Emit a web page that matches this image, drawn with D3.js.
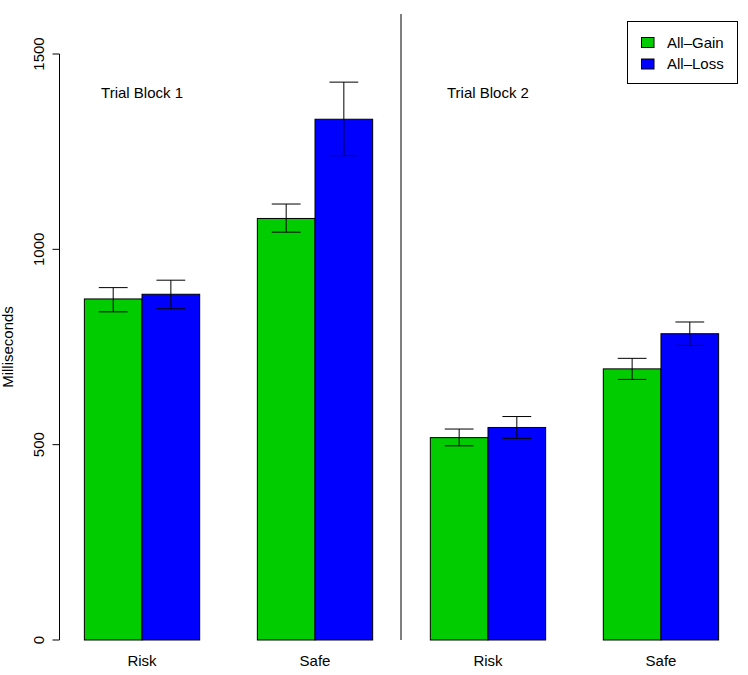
<!DOCTYPE html>
<html>
<head>
<meta charset="utf-8">
<script src="https://cdn.jsdelivr.net/npm/d3@7"></script>
<style>
  body { margin: 0; background: #fff; }
  text { font-family: "Liberation Sans", Arial, Helvetica, sans-serif; fill: #000; }
</style>
</head>
<body>
<svg id="chart" width="748" height="675"></svg>
<script>
// ---- data ----
const categories = ["Risk", "Safe", "Risk", "Safe"];
const blocks = ["Trial Block 1", "Trial Block 2"];
const series = ["All\u2013Gain", "All\u2013Loss"];
const gainMean = [873, 1079, 518, 694];
const gainLow  = [840, 1044, 497, 667];
const gainHigh = [902, 1116, 540, 721];
const lossMean = [885, 1333, 544, 784];
const lossLow  = [848, 1240, 516, 754];
const lossHigh = [921, 1428, 572, 814];
const yTicks = [0, 500, 1000, 1500];
const colors = ["#00CC00", "#0000FF"];

const svg = d3.select("#chart");
const x = d3.scaleLinear().domain([0.56, 12.44]).range([59, 744]);
const y = d3.scaleLinear().domain([0, 1500]).range([640, 54]);
const fs = 15;

// build bars
const bars = [];
categories.forEach((c, i) => {
  const start = 1 + i * 3;
  bars.push({ x0: start, x1: start + 1, v: gainMean[i], lo: gainLow[i], hi: gainHigh[i], col: colors[0] });
  bars.push({ x0: start + 1, x1: start + 2, v: lossMean[i], lo: lossLow[i], hi: lossHigh[i], col: colors[1] });
});

svg.append("g").selectAll("rect").data(bars).join("rect")
  .attr("x", d => x(d.x0))
  .attr("width", d => x(d.x1) - x(d.x0))
  .attr("y", d => y(d.v))
  .attr("height", d => y(0) - y(d.v))
  .attr("fill", d => d.col)
  .attr("stroke", "#000")
  .attr("stroke-width", 1);

// error bars
const eg = svg.append("g").attr("stroke", "#000").attr("stroke-width", 1).attr("fill", "none");
bars.forEach(d => {
  const cx = x((d.x0 + d.x1) / 2);
  const hw = (x(d.x1) - x(d.x0)) / 4;
  eg.append("line").attr("x1", cx).attr("x2", cx).attr("y1", y(d.lo)).attr("y2", y(d.hi));
  eg.append("line").attr("x1", cx - hw).attr("x2", cx + hw).attr("y1", y(d.lo)).attr("y2", y(d.lo));
  eg.append("line").attr("x1", cx - hw).attr("x2", cx + hw).attr("y1", y(d.hi)).attr("y2", y(d.hi));
});

// y axis
const ax = svg.append("g").attr("transform", "translate(59.5,0)");
ax.append("line").attr("x1", 0).attr("x2", 0).attr("y1", y(0)).attr("y2", y(1500)).attr("stroke", "#000");
yTicks.forEach(t => {
  ax.append("line").attr("x1", -7).attr("x2", 0).attr("y1", y(t)).attr("y2", y(t)).attr("stroke", "#000");
  ax.append("text")
    .attr("transform", `translate(-16,${y(t)}) rotate(-90)`)
    .attr("text-anchor", "middle")
    .attr("font-size", fs)
    .text(t);
});

// y label
svg.append("text")
  .attr("transform", `translate(13,${(y(0) + y(1500)) / 2}) rotate(-90)`)
  .attr("text-anchor", "middle")
  .attr("font-size", fs)
  .text("Milliseconds");

// category labels
categories.forEach((c, i) => {
  svg.append("text")
    .attr("x", x(2 + i * 3))
    .attr("y", 666)
    .attr("text-anchor", "middle")
    .attr("font-size", fs)
    .text(c);
});

// divider
svg.append("line")
  .attr("x1", Math.floor(x(6.5))).attr("x2", Math.floor(x(6.5)))
  .attr("y1", 14).attr("y2", y(0))
  .attr("stroke", "#000");

// block labels
blocks.forEach((b, i) => {
  svg.append("text")
    .attr("x", x(2 + i * 6))
    .attr("y", y(1400))
    .attr("dy", "0.35em")
    .attr("text-anchor", "middle")
    .attr("font-size", fs)
    .text(b);
});

// legend
const lg = svg.append("g");
lg.append("rect").attr("x", 627.5).attr("y", 21.5).attr("width", 110).attr("height", 62)
  .attr("fill", "#fff").attr("stroke", "#000");
series.forEach((s, i) => {
  lg.append("rect").attr("x", 641.5).attr("y", 37.5 + i * 21.5).attr("width", 12.5).attr("height", 10)
    .attr("fill", colors[i]).attr("stroke", "#000");
  lg.append("text").attr("x", 667).attr("y", 42.5 + i * 21.5).attr("dy", "0.35em")
    .attr("font-size", fs).text(s);
});
</script>
</body>
</html>
